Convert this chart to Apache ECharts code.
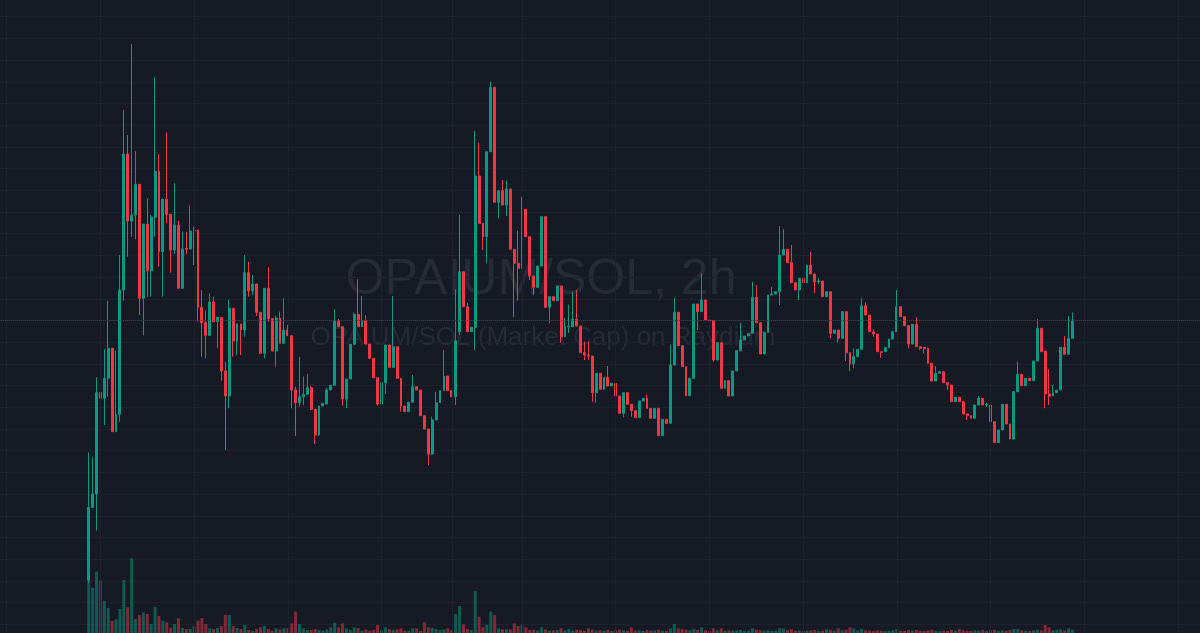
<!DOCTYPE html>
<html><head><meta charset="utf-8">
<script src="https://cdn.jsdelivr.net/npm/echarts@6/dist/echarts.min.js"></script>
<style>html,body{margin:0;padding:0;background:#161a25;}#chart{width:1200px;height:633px;}</style>
</head><body><div id="chart"></div>
<script>
// OHLC (market cap, arbitrary units) for 253 two-hour bars
const openP = [53,125.6,139,240.3,234.7,254.7,284.7,201.3,218.7,343,
479,412,418,448.7,334.7,409,362.3,415.7,461.7,381.3,
433.7,418.7,383,408,344.7,384.7,384,402,403,325.7,
310.3,297.7,331,311.3,315.7,262,237,324.7,292,309,
303,360.3,342.3,349,320.7,279.7,344.7,314.3,282,315,
289.7,303,297.3,243,230.3,236.3,238.7,245.3,223.7,198,
227,229,243,247.7,312.3,306.3,234,254,288.7,318.7,
306.3,312.3,289,274.7,255.3,229,250.3,288,265.7,286.3,
254.7,227,221.3,230.7,246.3,243,217.3,204,179,213,
230.3,242.3,257,242.3,236.3,301.3,361.3,326.3,301.3,305.7,
457,409.7,396.3,481.3,545.7,430.7,442.3,428,444,383.7,
369.7,364.7,423.7,396.3,357,345.7,367,416.3,325.7,336.3,
332.3,347,296.3,306.3,306.3,313.7,307,280.3,278,277,
240.3,259.7,243.7,255.7,247,249.7,237,219.7,240.3,228.7,
222.3,215.3,232,234.7,224.7,214.7,224.7,197.3,213.7,209.7,
268,320.7,287.3,266.3,237.3,254.7,329,321.3,333,313,
312.5,273,290.3,244.7,252.3,237,262,282.3,293,297,
299.7,335.7,310.3,279,300.7,338,339,341.3,378,383.7,
370.3,350.3,343,354.7,350.3,368,359,351.3,352,336.3,
341.3,299.7,303,294.7,321.3,280.3,269,276.3,283.7,327.3,
318,301.3,299,281.3,281.3,285.3,294,301.3,326.3,316.3,
307.3,289,308.7,286.3,285.5,284.7,269.7,252,259.7,261.3,
250.3,248,231.3,235.7,231.3,219,217.3,214.7,228,234.7,
228,228,211.3,190.3,203,228.7,209,194,241.3,258.7,
247.3,254.7,252.3,272,304.7,282,239,237,240.3,243,
285.7,278.7,294.7];
const closeP = [125.6,139,240.3,234.7,254.7,284.7,201.3,218.7,343,479,
412,418,448.7,334.7,409,362.3,415.7,461.7,381.3,433.7,
418.7,383,408,344.7,384,383.7,402,403,325.7,310.3,
297.7,331,311.3,315.7,262,237,324.7,292,309,303,
360.3,342.3,349,320.7,279.7,344.7,314.3,282,315,289.7,
303,297.3,243,230.3,236.3,238.7,245.3,223.7,198,227,
229.7,243,247.7,312.3,306.3,234,254,288.7,318.7,306.3,
312.3,289,274.7,255.3,229,250.3,288,265.7,286.3,254.7,
227,221.3,230.7,246.3,243,217.3,204,179,213,230.3,
242.3,257,242.3,236.3,292.3,361.3,326.3,301.3,305.7,457,
409.7,396.3,481.3,545.7,430.7,442.3,428,444,383.7,369.7,
364.7,423.7,396.3,357,345.7,367,416.3,325.7,336.3,332.3,
347,296.3,306.3,306.8,313.7,307,280.3,278,277,240.3,
259.7,243.7,255.7,247,249.7,237,219.7,240.3,228.7,222.3,
215.3,232,234.7,224.7,214.7,224.7,197.3,213.7,209.7,268,
320.7,287.3,266.3,237.3,254.7,329,321.3,333,313,312.5,
273,290.3,244.7,252.3,237,262,282.3,293,297,299.7,
335.7,310.3,279,300.7,338,339,341.3,378,383.7,370.3,
350.3,343,354.7,350.3,368,359,351.3,352,336.3,341.3,
299.7,303,294.7,321.3,280.3,269,276.3,283.7,327.3,318,
301.3,299,281.3,280.7,285.3,294,301.3,326.3,316.3,307.3,
289,308.7,286.3,284.7,284.5,269.7,252,259.7,261.3,250.3,
248,231.3,235.7,231.3,219,217.3,214.7,228,234.7,228,
228.7,211.3,190.3,203,228.7,209,194,241.3,258.7,247.3,
254.7,252.3,272,304.7,281.3,239,237,240.3,243,285.7,
278.7,294.7,313];
const highP = [180.7,175.6,255.7,278,283.7,332.3,284.7,282.3,378,523,
498,589,482,448.7,409,434.7,418,555.3,479,433.7,
500.7,418.7,449.7,412.3,401.3,401.3,427.3,406.3,403,343,
322.3,339.7,336.3,315.7,315.7,271.3,333,324.7,309,309,
378,371.3,358,349,320.7,344.7,365.7,314.3,317,321.3,
334.7,308,297.3,246.3,276.3,256.3,259,247,223.7,227,
229.7,245,247.7,323.7,314,306.3,254,288.7,320.3,353.7,
337,318,289,274.7,255.3,250.3,288,288,337,286.3,
254.7,227,230.7,258,246.3,243,217.3,204,216.3,241.3,
242.3,283,257,242.3,343.7,418,361.3,330,305.7,502.3,
490.3,409.7,481.3,551.3,545.7,442.3,453,452.3,444,383.7,
402.3,436.3,423.7,396.3,357,367,416.3,416.3,336.3,336.3,
347,347,314.7,328,341.3,343,307,291.3,291.3,277,
259.7,259.7,255.7,267,249.7,260,237,240.3,240.3,228.7,
222.3,232,234.7,238.7,224.7,224.7,224.7,213.7,213.7,288,
335.3,320.7,287.3,266.3,254.7,329,329,359.7,333,328,
313,290.3,290.3,252.3,252.3,262,282.3,310.3,297,299.7,
351.3,348,310.3,300.7,338,346.3,341.3,407,404,383.7,
388,350.3,354.7,354.7,368,381.3,359,355,352,341.3,
341.3,303,303,321.3,321.3,280.3,284.7,283.7,334.7,330.7,
318,303.7,299,281.3,285.3,294,301.3,343,326.3,316.3,
307.3,308.7,315.7,286.3,285.7,284.7,269.7,267,261.3,261.3,
250.3,248,235.7,235.7,231.3,219,217.3,228,237,234.7,
230,228,211.3,203,228.7,228.7,209,241.3,271.3,258.7,
254.7,254.7,272,314,304.7,282,263.7,248,243,285.7,
297,317,320.3];
const lowP = [50,125.6,102.5,189.7,208,236.3,201.3,201.3,211.3,332.3,
376.3,396.3,394,318,298,336.3,336.3,396.3,366.3,336.3,
409.7,360.3,379,344.7,344.7,379,384,368,311.3,276.3,
274.7,297.7,311.3,284.7,252.3,183,224.7,276.3,278,278,
296.3,336.3,338,317,279.7,274.7,311.3,282,266.3,289.7,
289.7,297.3,224.7,197,226.3,228,238,223,189,197,
227,229,243,247.7,306.3,227.3,225,254,288.7,306.3,
306.3,289,274.7,255.3,227.3,229,239,265.7,265.7,254.7,
221.3,221.3,221.3,230.7,243,217.3,204,168,178,213,
230.3,242.3,242.3,236.3,228,298,326.3,301.3,301.3,283,
409.7,383,370.3,481.3,430.7,414.7,428,417,383.7,315.7,
332.3,364.7,396.3,353,338,345.7,367,325.7,309.7,332.3,
332.3,290.3,296.3,300,306.3,307,280.3,273,273,231.3,
230.3,243.7,243.7,247,247,237,219.7,215.7,228.7,216.3,
215.3,215.3,232,224.7,214.7,214.7,197.3,197.3,209.7,209.7,
268,287.3,266.3,237.3,237.3,254.7,303,321.3,313,312.5,
271.3,273,244.7,244.7,237,237,262,282.3,293,297,
299.7,310.3,279,279,300.7,338,339,328,378,370.3,
350.3,343,333,350.3,350.3,359,339.7,349,336.3,336.3,
294.7,299.7,290.3,294.7,272,262,264.7,276.3,283.7,318,
301.3,296.3,281.3,275.3,281.3,285.3,294,301.3,316.3,307.3,
284.7,289,286.3,283,279.7,269.7,252,252,259.7,250.3,
243,231.3,231.3,231.3,219,213,214.7,214.7,228,228,
226,211.3,190.3,190.3,203,209,194,194,241.3,247.3,
247.3,252.3,252.3,272,281.3,224.7,228,237,240.3,243,
278.7,278.7,294.7];
const volume = [53,45.3,61.3,52.3,32,25,12,13.7,24,53,
25.7,74.7,14,18,20.7,19,9,26.3,17,12.3,
10.7,5.3,9,14.7,5,4,4,7,12.3,15,
9,4.7,4,5,7,18,18,7,5,4,
8,3,2,4,5.7,7,4,2.3,4.7,3.7,
4.7,4.7,9.7,21.3,9,4.7,3,3,4,3,
2.3,3.7,5.7,10.3,5.7,9.7,4.7,3,5.7,5,
2.3,3.7,2.3,3,8,2.3,5.7,4,3,3.7,
4.7,2.3,2.3,4.7,4.7,2,10.7,5.7,5,4,
3,3.7,4.7,3,19,27,8.7,4,3,42,
16.3,5.7,8,21.3,18,4.7,3.7,3.7,3.7,9.7,
7,8,5.7,3,3.3,2.7,5.7,3.7,2.3,2.7,
3,4.7,2.7,4,2.3,3.3,2.7,2,4.7,3.3,
2.3,2.7,2.3,3,2,2.7,3.3,2.7,2,5.7,
2.3,2.7,2,3,2.3,2.7,3.3,2.3,2,4.7,
9,4.7,3.7,3.3,2.7,4,3,5.7,2.7,2,
4.7,2.7,4.7,2.3,2.7,2.3,2.7,3,2,2.3,
4.7,3.3,2.7,2.3,2.7,2,2.3,4.7,4.7,3,
3.7,2.3,2.7,2,2.3,2.7,3,2,2.3,4,
3.3,2.3,4.7,2.7,3.3,5.7,4.7,2.7,4,2.7,
2.3,2,2.7,2.3,2,2.3,2.7,4,2.3,2,
2.7,2.3,3,2.3,2,2.7,3.3,2.3,2,2.3,
2,3,2.3,4,2.7,2.3,2,2.7,2.3,3.3,
2,2.7,3.3,2.3,2.7,2.3,3,4,4,2.7,
2.3,2,2.7,3.3,2.7,8,5.7,2.7,3.3,3.7,
2.7,4.7,3.3];
// bar positions (in bars from the first candle) where the time scale puts a grid line
const timeGridBars = [-21, 3, 27, 51, 75, 93, 111, 135, 159, 183, 207, 231, 255, 279];
const titleMain = 'OPAIUM/SOL, 2h';
const titleSub = 'OPAIUM/SOL (Market Cap) on Raydium';

const LEAD = 22, TOTAL = 307;
const UP = '#089981', DOWN = '#f23645';
const GRID = '#1e222d';
const categories = Array.from({length: TOTAL}, (_, k) => 'b' + (k - LEAD));
const pad = n => Array(n).fill('-');
const candles = openP.map((o, i) => [o, closeP[i], lowP[i], highP[i]]);
const candleData = pad(LEAD).concat(candles, pad(TOTAL - LEAD - candles.length));
const volBars = volume.map((v, i) => ({value: v, itemStyle: {color: closeP[i] >= openP[i] ? 'rgba(8,153,129,0.5)' : 'rgba(242,54,69,0.5)'}}));
const volData = pad(LEAD).concat(volBars, pad(TOTAL - LEAD - volBars.length));

const chart = echarts.init(document.getElementById('chart'), null, {renderer: 'canvas'});
chart.setOption({
  animation: false,
  backgroundColor: '#161a25',
  graphic: [
    {type: 'text', z: -10, style: {text: titleMain, x: 541, y: 280, textAlign: 'center', textVerticalAlign: 'middle', font: '50px "Liberation Sans", Arial, sans-serif', fill: '#272b36'}},
    {type: 'text', z: -10, style: {text: titleSub, x: 543, y: 338, textAlign: 'center', textVerticalAlign: 'middle', font: '26px "Liberation Sans", Arial, sans-serif', fill: '#272b36'}}
  ],
  grid: [
    {left: 0.86, right: 0.64, top: 0, bottom: 0},
    {left: 0.86, right: 0.64, bottom: 0, height: 100},
    {left: 0, right: 0, top: 16.7, bottom: 8.7}
  ],
  xAxis: [
    {type: 'category', data: categories, gridIndex: 0, boundaryGap: true, show: false},
    {type: 'category', data: categories, gridIndex: 1, boundaryGap: true, show: false},
    {type: 'value', gridIndex: 2, min: 0, max: 1, show: false}
  ],
  yAxis: [
    {type: 'value', gridIndex: 0, min: 0, max: 633, show: false},
    {type: 'value', gridIndex: 1, min: 0, max: 100, show: false},
    {type: 'value', gridIndex: 2, min: 0, max: 28, interval: 1,
     axisLine: {show: false}, axisTick: {show: false}, axisLabel: {show: false},
     splitLine: {show: true, lineStyle: {color: GRID, width: 1}}}
  ],
  series: [
    {type: 'line', xAxisIndex: 0, yAxisIndex: 0, data: [], z: 1, silent: true,
     markLine: {silent: true, symbol: 'none', label: {show: false}, animation: false,
       lineStyle: {color: GRID, type: 'solid', width: 1},
       data: timeGridBars.map(b => ({xAxis: categories[b + LEAD]}))}},
    {type: 'bar', xAxisIndex: 1, yAxisIndex: 1, data: volData, barWidth: 3, z: 2, silent: true},
    {type: 'candlestick', xAxisIndex: 0, yAxisIndex: 0, data: candleData, barWidth: 2.4, z: 3, silent: true,
     itemStyle: {color: UP, color0: DOWN, borderColor: UP, borderColor0: DOWN, borderColorDoji: UP, borderWidth: 1},
     markLine: {silent: true, symbol: 'none', label: {show: false}, animation: false,
       lineStyle: {color: '#3c404c', type: 'dotted', width: 1},
       data: [{yAxis: closeP[closeP.length - 1]}]}}
  ]
});
</script></body></html>
